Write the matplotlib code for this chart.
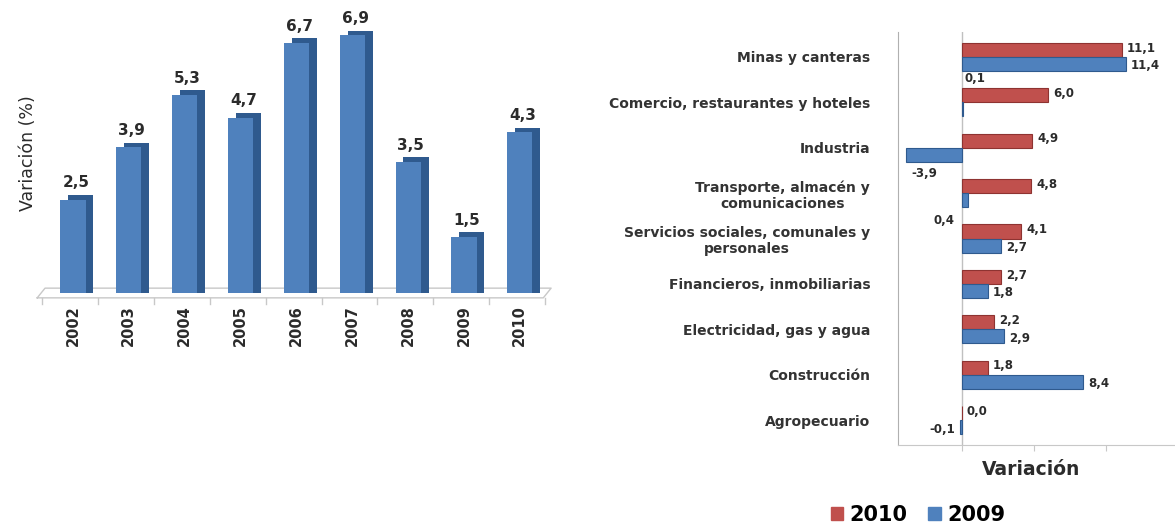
import matplotlib.pyplot as plt
from matplotlib.patches import Patch

# -----------------------------
# Data
# -----------------------------
years = ["2002", "2003", "2004", "2005", "2006", "2007", "2008", "2009", "2010"]
growth = [2.5, 3.9, 5.3, 4.7, 6.7, 6.9, 3.5, 1.5, 4.3]

sectors = [
    "Agropecuario",
    "Construcción",
    "Electricidad, gas y agua",
    "Financieros, inmobiliarias",
    "Servicios sociales, comunales y\npersonales",
    "Transporte, almacén y\ncomunicaciones",
    "Industria",
    "Comercio, restaurantes y hoteles",
    "Minas y canteras",
]
var_2010 = [0.0, 1.8, 2.2, 2.7, 4.1, 4.8, 4.9, 6.0, 11.1]
var_2009 = [-0.1, 8.4, 2.9, 1.8, 2.7, 0.4, -3.9, 0.1, 11.4]

BLUE = "#4F81BD"
BLUE_DARK = "#2F5A8E"
RED = "#C0504D"
RED_DARK = "#8E3331"
TXT = "#2b2b2b"

def fmt(v):
    return f"{v:.1f}".replace(".", ",")

fig = plt.figure(figsize=(11.75, 5.29), dpi=100)

# -----------------------------
# Left chart: 3D-looking columns
# -----------------------------
ax = fig.add_axes([40 / 1175, 236 / 529, 510 / 1175, 280 / 529])
x = list(range(len(years)))
w = 0.45
dx, dy = 0.14, 0.13
# darker side / top (shadow) then front face
ax.bar([i + dx for i in x], [g + dy for g in growth], width=w, color=BLUE_DARK,
       bottom=0.0, zorder=2)
ax.bar(x, growth, width=w, color=BLUE, zorder=3)
for i, g in zip(x, growth):
    ax.text(i + 0.05, g + 0.25, fmt(g), ha="center", va="bottom", fontsize=11,
            fontweight="bold", color=TXT)

ax.set_xlim(-0.59, 8.54)
ax.set_ylim(0, 7.5)
for s in ax.spines.values():
    s.set_visible(False)
ax.set_yticks([])
ax.set_xticks(x)
ax.set_xticklabels(years, rotation=90, fontsize=10.5, fontweight="bold", color=TXT)
ax.tick_params(axis="x", length=0, pad=9)
# floor of the 3D plot, with small ticks between categories
ax.plot([-0.64, -0.5, 8.56, 8.42, -0.64], [-0.13, 0.13, 0.13, -0.13, -0.13],
        color="#c8c8c8", lw=1.0, clip_on=False, zorder=1)
for i in x + [len(x)]:
    ax.plot([i - 0.55, i - 0.55], [-0.13, -0.3], color="#c8c8c8", lw=1.0,
            clip_on=False, zorder=1)
ax.set_ylabel("Variación (%)", fontsize=12.5, color=TXT, labelpad=2)

# -----------------------------
# Right chart: horizontal bars by sector
# -----------------------------
ax2 = fig.add_axes([898 / 1175, 84 / 529, 277 / 1175, 413 / 529])
y = list(range(len(sectors)))
h = 0.31
ax2.barh([i + h / 2 for i in y], var_2010, height=h, color=RED, edgecolor=RED_DARK,
         lw=0.8, zorder=3, label="2010")
ax2.barh([i - h / 2 for i in y], var_2009, height=h, color=BLUE, edgecolor=BLUE_DARK,
         lw=0.8, zorder=3, label="2009")

for i, v in zip(y, var_2010):
    ax2.text(max(v, 0) + 0.35, i + h / 2 + 0.04, fmt(v), ha="left", va="center",
             fontsize=8.5, fontweight="bold", color=TXT)
for i, v in zip(y, var_2009):
    if v >= 0.5:
        ax2.text(v + 0.35, i - h / 2 - 0.04, fmt(v), ha="left", va="center",
                 fontsize=8.5, fontweight="bold", color=TXT)
    elif v < -1:
        ax2.text(v + 0.4, i - h - 0.25, fmt(v), ha="left", va="center",
                 fontsize=8.5, fontweight="bold", color=TXT)
    elif v < 0:
        ax2.text(v - 0.4, i - h / 2 - 0.05, fmt(v), ha="right", va="center",
                 fontsize=8.5, fontweight="bold", color=TXT)
    elif i == 7:
        ax2.text(v + 0.1, i + h + 0.22, fmt(v), ha="left", va="center",
                 fontsize=8.5, fontweight="bold", color=TXT)
    else:
        ax2.text(v - 0.9, i - h - 0.3, fmt(v), ha="right", va="center",
                 fontsize=8.5, fontweight="bold", color=TXT)

ax2.set_xlim(-4.44, 14.8)
ax2.set_ylim(-0.55, 8.55)
ax2.axvline(0, color="#c0c0c0", lw=1.0, zorder=1)
for side in ["top", "right"]:
    ax2.spines[side].set_visible(False)
ax2.spines["left"].set_color("#b0b0b0")
ax2.spines["bottom"].set_color("#c8c8c8")
ax2.set_yticks(y)
ax2.set_yticklabels(sectors, fontsize=10, fontweight="bold", color="#333333",
                    multialignment="center")
ax2.tick_params(axis="y", length=0, pad=20)
ax2.set_xticks([0, 5, 10])
ax2.set_xticklabels([])
ax2.tick_params(axis="x", length=4, color="#c8c8c8", direction="out")
ax2.set_xlabel("Variación", fontsize=13.5, fontweight="bold", color=TXT,
               labelpad=3, x=0.48)

fig.legend(handles=[Patch(color=RED, label="2010"), Patch(color=BLUE, label="2009")],
           loc="center", bbox_to_anchor=(918 / 1175, 14 / 529), ncol=2, frameon=False,
           prop={"size": 15, "weight": "bold"}, handlelength=0.6, handleheight=0.6,
           handletextpad=0.3, columnspacing=1.0)

fig.savefig("out.png", dpi=100)
